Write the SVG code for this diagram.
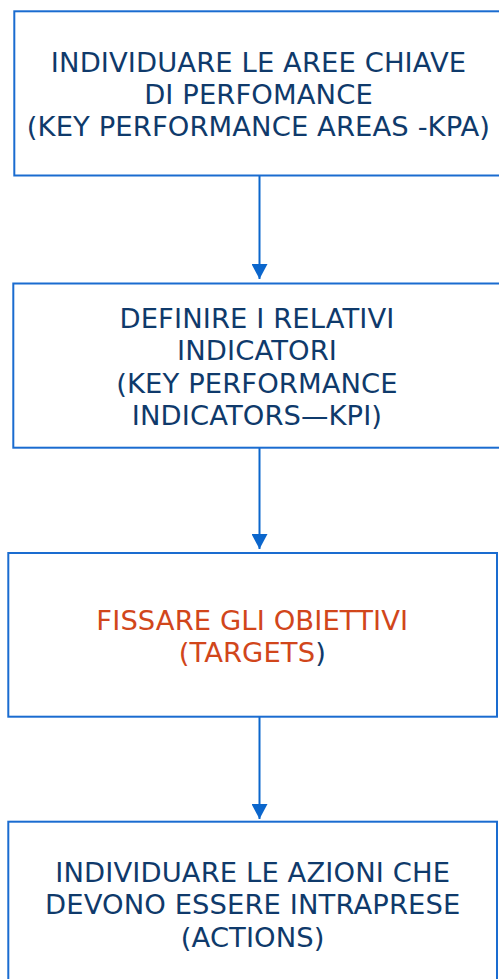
<svg xmlns="http://www.w3.org/2000/svg" width="499" height="979" viewBox="0 0 499 979">
  <style>
    .box { fill: #ffffff; stroke: #1a6cd0; stroke-width: 2; }
    .t { font-family: "DejaVu Sans", Verdana, sans-serif; font-size: 27.4px; letter-spacing: 0.1px; fill: #0f3a6b; text-anchor: middle; }
    .o { fill: #d1461b; }
    .conn { stroke: #0b66cc; stroke-width: 2; fill: none; }
  </style>
  <defs>
    <marker id="arr" markerUnits="userSpaceOnUse" markerWidth="16" markerHeight="16" refX="15" refY="8" orient="auto">
      <path d="M0,0 L15,8 L0,16 Z" fill="#0b66cc"/>
    </marker>
  </defs>
  <rect width="499" height="979" fill="#ffffff"/>
  <g id="connectors">
    <line class="conn" x1="259.5" y1="174" x2="259.5" y2="279" marker-end="url(#arr)"/>
    <line class="conn" x1="259.5" y1="446" x2="259.5" y2="549" marker-end="url(#arr)"/>
    <line class="conn" x1="259.5" y1="715" x2="259.5" y2="819" marker-end="url(#arr)"/>
  </g>
  <g id="node1">
    <rect class="box" x="14.3" y="11.3" width="490" height="164.2"/>
    <text class="t" x="258.5" y="71.7">INDIVIDUARE LE AREE CHIAVE</text>
    <text class="t" x="258.5" y="103.5">DI PERFOMANCE</text>
    <text class="t" x="258.5" y="135.5">(KEY PERFORMANCE AREAS -KPA)</text>
  </g>
  <g id="node2">
    <rect class="box" x="13.3" y="283.5" width="490" height="164.2"/>
    <text class="t" x="257" y="328">DEFINIRE I RELATIVI</text>
    <text class="t" x="257" y="360">INDICATORI</text>
    <text class="t" x="257" y="392.5">(KEY PERFORMANCE</text>
    <text class="t" x="257" y="425">INDICATORS—KPI)</text>
  </g>
  <g id="node3">
    <rect class="box" x="8.3" y="553" width="488.7" height="163.7"/>
    <text class="t o" x="252.3" y="629.5">FISSARE GLI OBIETTIVI</text>
    <text class="t" x="252.3" y="661.5"><tspan class="o">(TARGETS</tspan>)</text>
  </g>
  <g id="node4">
    <rect class="box" x="8.3" y="821.7" width="488.7" height="170"/>
    <text class="t" x="252.7" y="881.5">INDIVIDUARE LE AZIONI CHE</text>
    <text class="t" x="252.7" y="913.5">DEVONO ESSERE INTRAPRESE</text>
    <text class="t" x="252.7" y="946.5">(ACTIONS)</text>
  </g>
</svg>
